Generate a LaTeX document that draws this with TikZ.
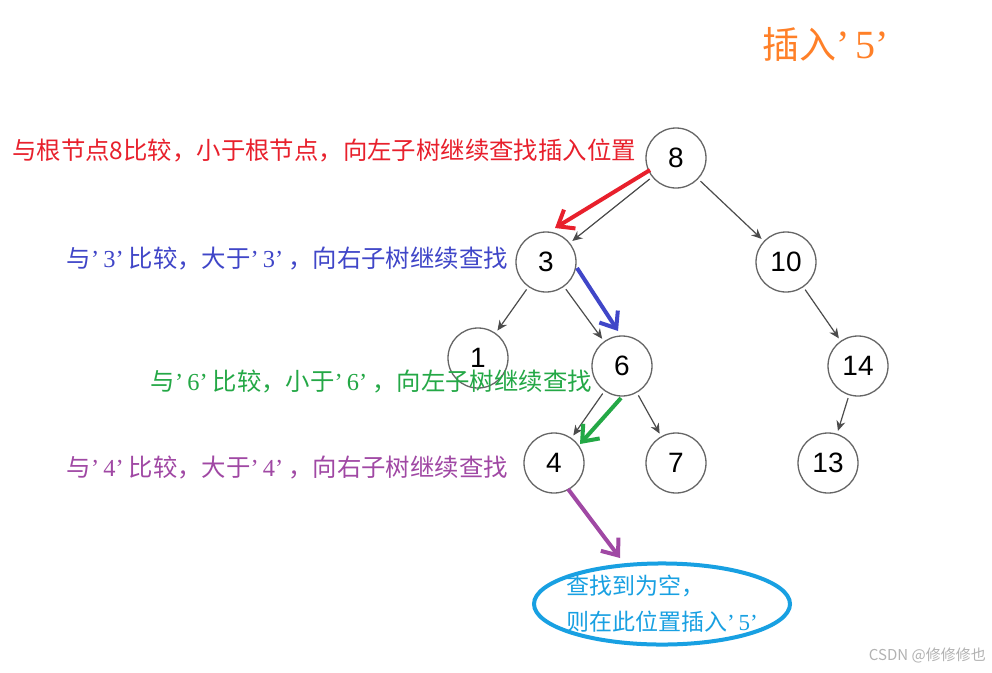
\documentclass[tikz,border=0pt]{standalone}
\usepackage{fontspec}
\setmainfont{Liberation Sans}
\newfontfamily\cjk{Noto Sans CJK SC}
\newfontfamily\latinserif{Liberation Serif}
\usetikzlibrary{arrows.meta,shapes.geometric}
\definecolor{hintred}{RGB}{232,32,44}
\definecolor{hintblue}{RGB}{64,70,200}
\definecolor{hintgreen}{RGB}{36,168,70}
\definecolor{hintpurple}{RGB}{160,72,164}
\definecolor{titleorange}{RGB}{255,128,40}
\definecolor{spotcyan}{RGB}{24,160,226}
% quoted key, set with narrow latin quotes
\newcommand{\keyq}[1]{{\latinserif ’\,#1’}\hspace{5pt}}
\tikzset{
  treenode/.style={draw=black!60, line width=1.3pt, circle, minimum size=60pt, inner sep=0pt,
    font=\fontsize{28}{28}\selectfont},
  treeedge/.style={draw=black!70, line width=1.2pt, -{Stealth[length=10pt,width=9pt]},
    shorten >=3pt, shorten <=3pt},
  steparrow/.style={line width=4pt, -{Straight Barb[length=14pt,width=22pt]}},
  hint/.style={font=\cjk\fontsize{24.4}{24.4}\selectfont, anchor=east, inner sep=0pt},
}
\begin{document}
\begin{tikzpicture}[x=1pt,y=-1pt]
  \useasboundingbox[fill=white] (0,0) rectangle (992,672);
  % the tree
  \node[treenode] (n8) at (676,158) {8};
  \node[treenode] (n3) at (546,262) {3};
  \node[treenode] (n10) at (786,262) {10};
  \node[treenode] (n1) at (478,358) {1};
  \node[treenode] (n6) at (622,366) {6};
  \node[treenode] (n14) at (858,366) {14};
  \node[treenode] (n4) at (554,463) {4};
  \node[treenode] (n7) at (676,463) {7};
  \node[treenode] (n13) at (828,463) {13};
  \draw[treeedge] (n8) -- (n3);
  \draw[treeedge] (n8) -- (n10);
  \draw[treeedge] (n3) -- (n1);
  \draw[treeedge] (n3) -- (n6);
  \draw[treeedge] (n10) -- (n14);
  \draw[treeedge] (n6) -- (n4);
  \draw[treeedge] (n6) -- (n7);
  \draw[treeedge] (n14) -- (n13);
  % where 5 goes
  \node[draw=spotcyan, line width=4pt, ellipse, minimum width=256pt, minimum height=80pt,
    inner xsep=-14pt, inner ysep=0pt, align=left, text=spotcyan,
    font=\cjk\fontsize{23}{36}\selectfont] (spot) at (662,604)
    {查找到为空，\\则在此位置插入\keyq{5}};
  % search steps
  \coordinate (r1) at (650,170);
  \coordinate (r2) at (555,228);
  \coordinate (b1) at (577,268);
  \coordinate (b2) at (618,331);
  \coordinate (g1) at (621,398);
  \coordinate (g2) at (580,444);
  \coordinate (p1) at (568,489);
  \coordinate (p2) at (620,558);
  \draw[steparrow, hintred] (r1) -- (r2);
  \draw[steparrow, hintblue] (b1) -- (b2);
  \draw[steparrow, hintgreen] (g1) -- (g2);
  \draw[steparrow, hintpurple] (p1) -- (p2);
  \node[hint, text=hintred] (t8) at (636,150) {与根节点8比较，小于根节点，向左子树继续查找插入位置};
  \node[hint, text=hintblue] (t3) at (508,258) {与\keyq{3}比较，大于\keyq{3}，向右子树继续查找};
  \node[hint, text=hintgreen] (t6) at (592,381) {与\keyq{6}比较，小于\keyq{6}，向左子树继续查找};
  \node[hint, text=hintpurple] (t4) at (508,467) {与\keyq{4}比较，大于\keyq{4}，向右子树继续查找};
  % title and mark
  \node[text=titleorange, font=\cjk\fontsize{37}{37}\selectfont, anchor=west, inner sep=0pt]
    (title) at (762,44) {插入{\latinserif\fontsize{40}{40}\selectfont ’\hspace{6pt}5’}};
  \node[text=black!30, font=\cjk\fontsize{15}{15}\selectfont, anchor=east, inner sep=0pt]
    (mark) at (986,655) {CSDN @修修修也};
\end{tikzpicture}
\end{document}
